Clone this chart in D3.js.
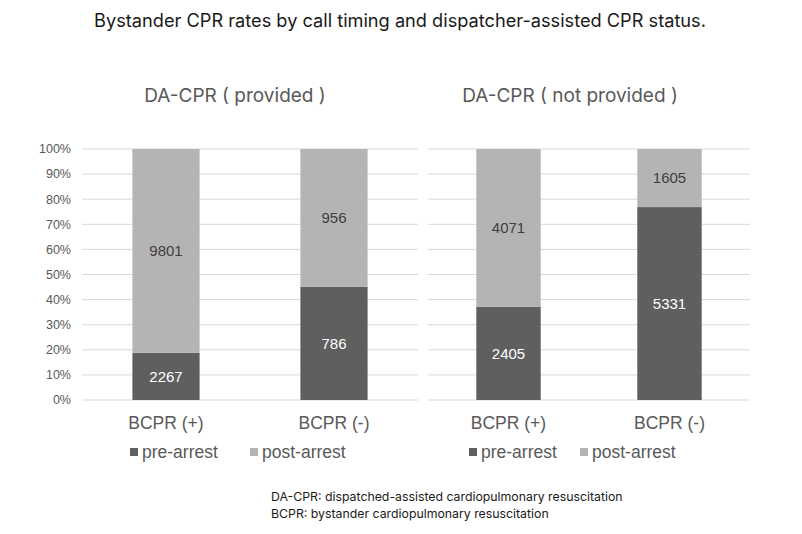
<!DOCTYPE html>
<html>
<head>
<meta charset="utf-8">
<script src="https://cdn.jsdelivr.net/npm/d3@7"></script>
<style>
  body { margin: 0; background: #fff; }
  svg { display: block; }
</style>
</head>
<body>
<div id="chart"></div>
<script>
        // Data
        const categories = ['BCPR (+)', 'BCPR (-)'];
        const panels = ['DA-CPR ( provided )', 'DA-CPR ( not provided )'];
        const seriesNames = ['pre-arrest', 'post-arrest'];
        const providedPre = [2267, 786];
        const providedPost = [9801, 956];
        const notProvidedPre = [2405, 5331];
        const notProvidedPost = [4071, 1605];
        const yTicks = [0, 0.1, 0.2, 0.3, 0.4, 0.5, 0.6, 0.7, 0.8, 0.9, 1.0];

        const colors = { 'pre-arrest': '#5f5f5f', 'post-arrest': '#b4b4b4' };

        const width = 802, height = 534;
        const svg = d3.select('#chart').append('svg')
            .attr('width', width)
            .attr('height', height);

        // Main title
        svg.append('text')
            .attr('x', 400).attr('y', 27)
            .attr('text-anchor', 'middle')
            .style('font-family', 'Inter, "Noto Sans", sans-serif')
            .style('font-size', '18.2px')
            .style('fill', '#1a1a1a')
            .text('Bystander CPR rates by call timing and dispatcher-assisted CPR status.');

        const y = d3.scaleLinear().domain([0, 1]).range([400, 149]);

        // y axis labels (left panel only)
        svg.selectAll('.ylab')
            .data(yTicks)
            .enter().append('text')
            .attr('class', 'ylab')
            .attr('x', 71)
            .attr('y', d => y(d))
            .attr('dy', '0.35em')
            .attr('text-anchor', 'end')
            .style('font-family', '"Liberation Sans", Arial, sans-serif')
            .style('font-size', '12.5px')
            .style('fill', '#595959')
            .text(d => Math.round(d * 100) + '%');

        function drawPanel(opts) {
            const { x0, x1, title, pre, post, legendX } = opts;
            const g = svg.append('g');

            const x = d3.scaleBand().domain(categories).range([x0, x1])
                .paddingInner(0.6).paddingOuter(0.3);

            // gridlines
            g.selectAll('.grid')
                .data(yTicks)
                .enter().append('line')
                .attr('x1', x0).attr('x2', x1)
                .attr('y1', d => y(d)).attr('y2', d => y(d))
                .attr('stroke', '#d9d9d9')
                .attr('stroke-width', 1);

            // panel title
            g.append('text')
                .attr('x', opts.titleX)
                .attr('y', 102)
                .attr('text-anchor', 'middle')
                .style('font-family', 'Inter, "Noto Sans", sans-serif')
                .style('font-size', '19px')
                .style('fill', '#595959')
                .text(title);

            const rows = categories.map((c, i) => {
                const total = pre[i] + post[i];
                return { cat: c, pre: pre[i], post: post[i], total: total };
            });

            const stack = d3.stack().keys(['pre', 'post'])
                .value((d, k) => d[k] / d.total);
            const layers = stack(rows);

            layers.forEach((layer, li) => {
                const name = seriesNames[li];
                g.selectAll('.bar' + li)
                    .data(layer)
                    .enter().append('rect')
                    .attr('x', d => x(d.data.cat))
                    .attr('width', x.bandwidth())
                    .attr('y', d => y(d[1]))
                    .attr('height', d => y(d[0]) - y(d[1]))
                    .attr('fill', colors[name]);

                g.selectAll('.lab' + li)
                    .data(layer)
                    .enter().append('text')
                    .attr('x', d => x(d.data.cat) + x.bandwidth() / 2)
                    .attr('y', d => (y(d[0]) + y(d[1])) / 2)
                    .attr('dy', '0.35em')
                    .attr('text-anchor', 'middle')
                    .style('font-family', '"Liberation Sans", Arial, sans-serif')
                    .style('font-size', '15px')
                    .style('fill', li === 0 ? '#ffffff' : '#404040')
                    .text(d => d.data[li === 0 ? 'pre' : 'post']);
            });

            // category labels
            g.selectAll('.cat')
                .data(categories)
                .enter().append('text')
                .attr('x', d => x(d) + x.bandwidth() / 2)
                .attr('y', 429)
                .attr('text-anchor', 'middle')
                .style('font-family', '"Liberation Sans", Arial, sans-serif')
                .style('font-size', '17.5px')
                .style('fill', '#595959')
                .text(d => d);

            // legend
            const lg = g.append('g').attr('transform', `translate(${legendX},452)`);
            const offsets = [0, opts.legendGap];
            seriesNames.forEach((s, i) => {
                lg.append('rect')
                    .attr('x', offsets[i]).attr('y', -4)
                    .attr('width', 8).attr('height', 8)
                    .attr('fill', colors[s]);
                lg.append('text')
                    .attr('x', offsets[i] + 12)
                    .attr('y', 0)
                    .attr('dy', '0.35em')
                    .style('font-family', '"Liberation Sans", Arial, sans-serif')
                    .style('font-size', '17.5px')
                    .style('fill', '#595959')
                    .text(s);
            });
        }

        drawPanel({ x0: 82, x1: 418, title: panels[0], titleX: 235, pre: providedPre, post: providedPost, legendX: 130, legendGap: 120 });
        drawPanel({ x0: 428, x1: 750, title: panels[1], titleX: 570, pre: notProvidedPre, post: notProvidedPost, legendX: 469, legendGap: 111 });

        // footnotes
        const notes = ['DA-CPR: dispatched-assisted cardiopulmonary resuscitation',
                       'BCPR: bystander cardiopulmonary resuscitation'];
        svg.selectAll('.note')
            .data(notes)
            .enter().append('text')
            .attr('x', 271)
            .attr('y', (d, i) => 501 + i * 16.5)
            .style('font-family', 'Inter, "Noto Sans", sans-serif')
            .style('font-size', '12.3px')
            .style('fill', '#1a1a1a')
            .text(d => d);
</script>
</body>
</html>
